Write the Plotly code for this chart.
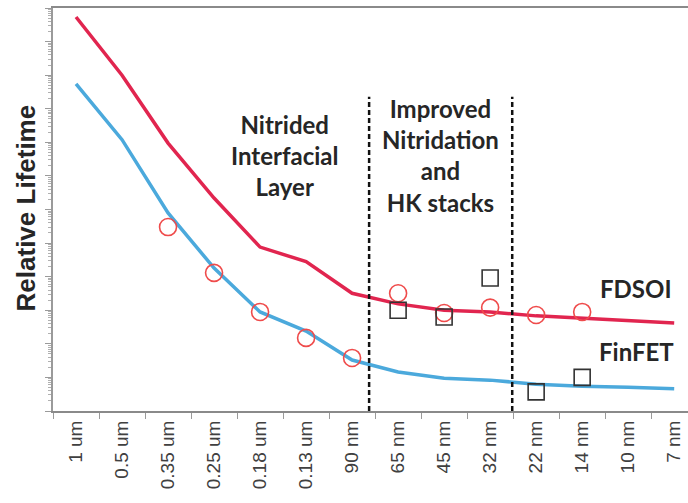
import plotly.graph_objects as go

# Technology nodes along the x axis
nodes = ["1 um", "0.5 um", "0.35 um", "0.25 um", "0.18 um", "0.13 um", "90 nm",
         "65 nm", "45 nm", "32 nm", "22 nm", "14 nm", "10 nm", "7 nm"]

# Relative lifetime trend curves (log scale)
fdsoi_trend = [5.4e11, 1.0e10, 9.5e7, 2.2e6, 7.6e4, 2.8e4, 3.2e3,
               1.55e3, 1.0e3, 890, 680, 590, 510, 420]
finfet_trend = [5.5e9, 1.2e8, 7.9e5, 1.8e4, 890, 240, 33,
                14.5, 9.5, 8.3, 6.3, 5.5, 5.1, 4.6]

# Measured points
circle_nodes = ["0.35 um", "0.25 um", "0.18 um", "0.13 um", "90 nm",
                "65 nm", "45 nm", "32 nm", "22 nm", "14 nm"]
circle_vals = [3.0e5, 1.3e4, 890, 150, 38, 3.2e3, 830, 1.2e3, 720, 890]

square_nodes = ["65 nm", "45 nm", "32 nm", "22 nm", "14 nm"]
square_vals = [1.0e3, 630, 9.1e3, 3.7, 10]

RED = "#e1254f"
BLUE = "#4ba9dc"
TXT = "#262626"

fig = go.Figure()
fig.add_trace(go.Scatter(x=nodes, y=fdsoi_trend, mode="lines",
                         line=dict(color=RED, width=3.5), showlegend=False))
fig.add_trace(go.Scatter(x=nodes, y=finfet_trend, mode="lines",
                         line=dict(color=BLUE, width=3.5), showlegend=False))
fig.add_trace(go.Scatter(x=circle_nodes, y=circle_vals, mode="markers",
                         marker=dict(symbol="circle-open", size=17,
                                     color="#ef4b4b", line=dict(width=1.6)),
                         showlegend=False))
fig.add_trace(go.Scatter(x=square_nodes, y=square_vals, mode="markers",
                         marker=dict(symbol="square-open", size=16,
                                     color="#333333", line=dict(width=1.6)),
                         showlegend=False))

# Era separators
for xb in [6.37, 9.48]:
    fig.add_shape(type="line", xref="x", yref="paper", x0=xb, x1=xb, y0=0, y1=0.78,
                  line=dict(color="#111111", width=2.5, dash="5px,3px"))

lab_font = dict(family="Lato", size=24, color=TXT, weight="bold")
fig.add_annotation(x=4.54, y=0.635, xref="x", yref="paper",
                   text="Nitrided<br>Interfacial<br>Layer", showarrow=False,
                   font=lab_font, align="center")
fig.add_annotation(x=7.93, y=0.633, xref="x", yref="paper",
                   text="Improved<br>Nitridation<br>and<br>HK stacks", showarrow=False,
                   font=lab_font, align="center")
fig.add_annotation(x=12.17, y=0.263, xref="x", yref="paper", text="FDSOI",
                   showarrow=False, font=lab_font)
fig.add_annotation(x=12.17, y=0.107, xref="x", yref="paper", text="FinFET",
                   showarrow=False, font=lab_font)

# Y axis title
fig.add_annotation(x=-0.041, y=0.505, xref="paper", yref="paper",
                   text="Relative Lifetime", textangle=-90, showarrow=False,
                   xanchor="center", yanchor="middle",
                   font=dict(family="Liberation Sans", size=26, color=TXT, weight="bold"))

fig.update_xaxes(type="category", categoryarray=nodes, range=[-0.5, 13.3],
                 tickson="boundaries", ticks="outside", ticklen=6, tickcolor="#9a9a9a",
                 tickangle=-90, showline=True, linecolor="#8a8a8a", linewidth=2,
                 mirror=True, showgrid=False, zeroline=False,
                 tickfont=dict(family="Liberation Sans", size=19, color="#404040"))
fig.update_yaxes(type="log", range=[0, 12], dtick=1, showticklabels=False,
                 ticks="outside", ticklen=6, tickcolor="#9a9a9a",
                 minor=dict(ticks="outside", ticklen=3, tickcolor="#b0b0b0", showgrid=False),
                 showline=True, linecolor="#9a9a9a", linewidth=1.5,
                 showgrid=False, zeroline=False)

fig.update_layout(width=688, height=503, margin=dict(l=53, r=0, t=8, b=92),
                  plot_bgcolor="white", paper_bgcolor="white")

fig.write_html("out.html")
